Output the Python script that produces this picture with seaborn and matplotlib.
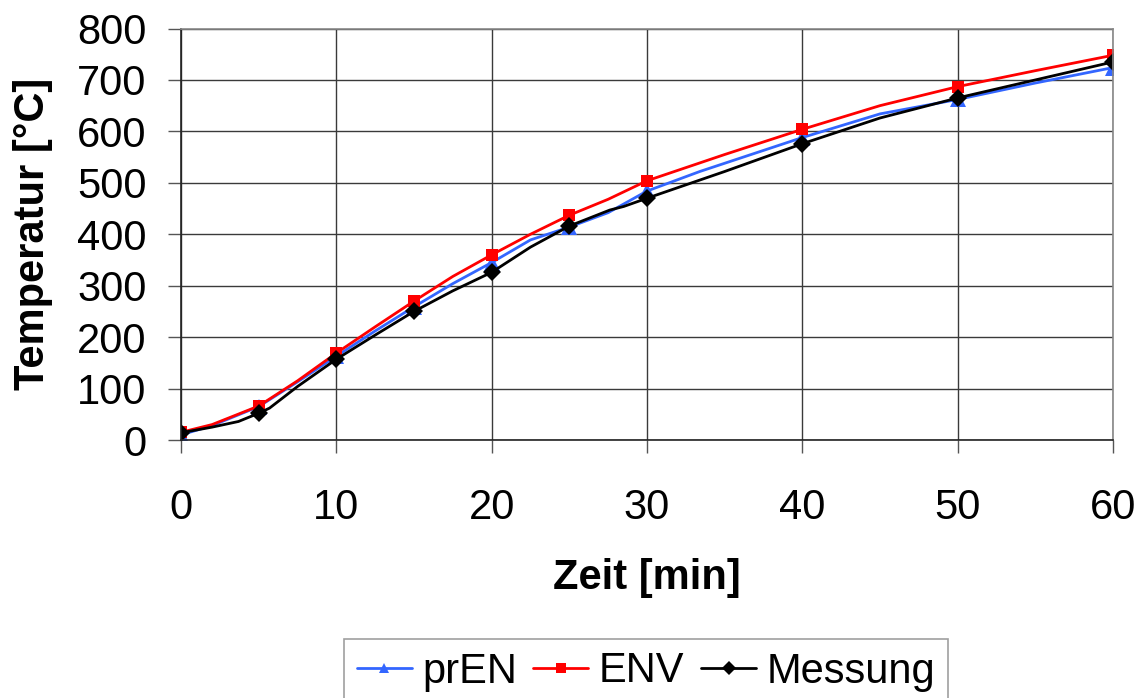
import numpy as np
import pandas as pd
import seaborn as sns
import matplotlib
matplotlib.use("Agg")
import matplotlib.pyplot as plt

# Temperature curves (time in minutes, temperature in °C)
pren_t = [0, 2, 5, 7.5, 10, 12.5, 15, 17.5, 20, 22.5, 25, 27.5, 30, 33.4, 40, 45, 50, 55, 60]
pren_v = [10, 28, 65, 113, 163, 212, 259, 304, 345, 389, 414, 442, 484, 522, 588, 634, 662, 694, 724]

env_t = [0, 2, 5, 7.5, 10, 12.5, 15, 17.5, 20, 22.5, 25, 27.5, 30, 35, 40, 45, 50, 55, 60]
env_v = [15, 30, 66, 115, 169, 220, 270, 318, 360, 400, 437, 468, 504, 555, 604, 650, 687, 718, 748]

mess_t = [0, 2, 3.7, 5, 5.7, 7.5, 10, 12.5, 15, 17.5, 20, 22.5, 25, 27.6, 28.5, 30, 35, 40, 45, 50, 55, 60]
mess_v = [14, 25, 36, 52, 62, 104, 157, 204, 250, 290, 326, 375, 416, 447, 454, 470, 522, 576, 626, 665, 700, 735]

# Times at which the series carry markers
marker_times = [0, 5, 10, 15, 20, 25, 30, 40, 50, 60]

series = [
    ("prEN", pren_t, pren_v, "#3366FF", "^", 11),
    ("ENV", env_t, env_v, "#FF0000", "s", 9),
    ("Messung", mess_t, mess_v, "#000000", "D", 9),
]

x_ticks = [0, 10, 20, 30, 40, 50, 60]
y_ticks = [0, 100, 200, 300, 400, 500, 600, 700, 800]

sns.set_theme(style="white")
plt.rcParams["font.family"] = ["Liberation Sans", "DejaVu Sans"]
plt.rcParams["text.color"] = "black"
plt.rcParams["axes.labelcolor"] = "black"
plt.rcParams["xtick.color"] = "black"
plt.rcParams["ytick.color"] = "black"

fig = plt.figure(figsize=(11.41, 6.98), dpi=100)
ax = fig.add_axes([181 / 1141, 1 - 440 / 698, (1113 - 181) / 1141, (440 - 28.5) / 698])

for name, t, v, color, mk, ms in series:
    every = list(np.isin(np.asarray(t, dtype=float), marker_times))
    sns.lineplot(x=t, y=v, ax=ax, color=color, lw=2.0, marker=mk, markersize=ms,
                 markeredgewidth=0, markevery=every, label=name, sort=False,
                 estimator=None)

ax.set_xlim(0, 60)
ax.set_ylim(0, 800)
ax.set_xticks(x_ticks)
ax.set_yticks(y_ticks)
ax.grid(True, color="#3a3a3a", lw=1.0)
ax.set_axisbelow(True)

for side in ["top", "right"]:
    ax.spines[side].set_color("#888888")
    ax.spines[side].set_linewidth(1.2)
for side in ["left", "bottom"]:
    ax.spines[side].set_color("#222222")
    ax.spines[side].set_linewidth(1.2)

ax.tick_params(axis="x", direction="out", length=9.4, width=1, color="#555555",
               labelcolor="black", pad=25, labelsize=30, bottom=True)
ax.tick_params(axis="y", direction="out", length=9.4, width=1, color="#555555",
               labelcolor="black", pad=15.5, labelsize=30, left=True)

ax.set_xlabel("Zeit [min]", fontsize=30, fontweight="bold", labelpad=22, color="black")
ax.set_ylabel("Temperatur [°C]", fontsize=30, fontweight="bold", labelpad=17, color="black")

ax.get_legend().remove()
handles, labels = ax.get_legend_handles_labels()
leg = fig.legend(handles, labels, loc="upper center", bbox_to_anchor=(0.566, 1 - 639 / 698),
                 ncol=3, fontsize=30, frameon=True, fancybox=False, edgecolor="#888888",
                 handlelength=1.32, handletextpad=0.25, columnspacing=0.4,
                 borderpad=0.3, borderaxespad=0, labelcolor="black")
leg.get_frame().set_linewidth(1.2)
for h in leg.legend_handles:
    h.set_markersize(7)

fig.savefig("out.png", dpi=100, facecolor="white")
